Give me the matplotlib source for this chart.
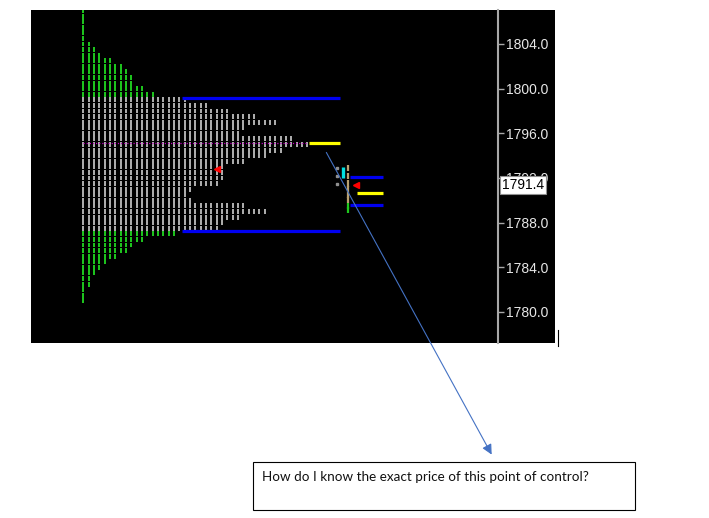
import matplotlib
matplotlib.use("Agg")
import matplotlib.pyplot as plt
from matplotlib.patches import Rectangle, FancyArrowPatch
from matplotlib.lines import Line2D
import matplotlib.transforms as mtransforms

# ---------------- data ----------------
# Main session market profile: price rows (0.5 step) and TPO count per row
prices = [1807.0, 1806.5, 1806.0, 1805.5, 1805.0, 1804.5, 1804.0, 1803.5, 1803.0,
          1802.5, 1802.0, 1801.5, 1801.0, 1800.5, 1800.0, 1799.5, 1799.0, 1798.5,
          1798.0, 1797.5, 1797.0, 1796.5, 1796.0, 1795.5, 1795.0, 1794.5, 1794.0,
          1793.5, 1793.0, 1792.5, 1792.0, 1791.5, 1791.0, 1790.5, 1790.0, 1789.5,
          1789.0, 1788.5, 1788.0, 1787.5, 1787.0, 1786.5, 1786.0, 1785.5, 1785.0,
          1784.5, 1784.0, 1783.5, 1783.0, 1782.5, 1782.0, 1781.5, 1781.0]
tpo_counts = [1, 1, 1, 1, 1, 1, 2, 3, 4,
              6, 8, 9, 10, 10, 12, 14, 20, 24,
              28, 33, 37, 31, 30, 40, 43, 38, 35,
              31, 27, 27, 27, 26, 21, 20, 21, 31,
              35, 30, 27, 26, 18, 12, 10, 9, 7,
              5, 4, 3, 2, 2, 1, 1, 1]
vah, val, poc = 1799.15, 1787.25, 1795.1
marker_price = 1792.8

# Current (developing) session profile
cur_prices = [1792.9, 1792.2, 1791.5, 1791.0, 1790.5, 1790.0, 1789.5, 1789.1]
cur_counts = [2, 2, 2, 1, 1, 1, 1, 1]
cur_vah, cur_val, cur_poc = 1792.1, 1789.6, 1790.65
cur_range_low, cur_range_high = 1792.0, 1793.0
last_price = 1791.4

tick_values = [1780.0, 1784.0, 1788.0, 1792.0, 1796.0, 1800.0, 1804.0]
question = "How do I know the exact price of this point of control?"

# ---------------- figure ----------------
W, H = 709, 518
fig = plt.figure(figsize=(W / 100, H / 100), dpi=100)
fig.patch.set_facecolor("white")

def fx(px):
    return px / W

def fy(py):
    return 1 - py / H

# black chart panel (incl. price-scale area)
fig.add_artist(Rectangle((fx(31), fy(343)), fx(555) - fx(31), fy(10) - fy(343),
                         transform=fig.transFigure, facecolor="black",
                         edgecolor="none", zorder=-1))

ax = fig.add_axes([fx(31), fy(343), fx(498) - fx(31), fy(10) - fy(343)])
ax.set_facecolor("black")
ax.set_xlim(-9.81, 77.8)
ax.set_ylim(1777.22, 1807.045)

GREEN = "#1ec81e"
GREY = "#b0b0b0"

# main profile TPO columns
half = 0.22
for p, c in zip(prices, tpo_counts):
    col = GREEN if (p > vah or p < val) else GREY
    xs = list(range(c))
    ax.vlines(xs, p - half, p + half, colors=col, lw=1.4, zorder=2)

# POC dotted line through the profile
ax.hlines(poc, 0, tpo_counts[prices.index(1795.0)] - 1, colors="#c000c0",
          lw=0.9, linestyles=(0, (1, 1.5)), zorder=3)

# value area lines and POC extension
ax.hlines([vah, val], 18.5, 48.2, colors="#0000f0", lw=2.3, zorder=4)
ax.hlines(poc, 42.3, 48.2, colors="#ffff00", lw=2.3, zorder=4)
ax.plot([25.1], [marker_price], marker="<", color="red", ms=5, ls="none", zorder=5)

# current session profile
for p, c in zip(cur_prices, cur_counts):
    col = GREEN if p < cur_val else "#b8a070"
    for i in range(c):
        x = 49.7 - 2.1 * i
        if i == 0:
            ax.vlines(x, p - 0.28, p + 0.28, colors=col, lw=1.6, zorder=2)
        else:
            ax.plot([x], [p], marker="s", ms=1.6, color="#909090", ls="none", zorder=2)
ax.vlines(48.7, cur_range_low, cur_range_high, colors="#00e0e0", lw=2.4, zorder=3)
ax.hlines([cur_vah, cur_val], 50.1, 56.2, colors="#0000f0", lw=2.3, zorder=4)
ax.hlines(cur_poc, 51.3, 56.2, colors="#ffff00", lw=2.3, zorder=4)
ax.plot([51.2], [last_price], marker="<", color="red", ms=5, ls="none", zorder=5)

# axis styling
for s in ["left", "top", "bottom"]:
    ax.spines[s].set_visible(False)
ax.spines["right"].set_color("#a8a8a8")
ax.spines["right"].set_linewidth(1.5)
ax.set_xticks([])
ax.yaxis.tick_right()
ax.set_yticks(tick_values)
ax.set_yticklabels([f"{v:.1f}" for v in tick_values])
ax.tick_params(axis="y", colors="#a8a8a8", length=4, width=1, pad=2,
               labelcolor="#e6e6e6", labelsize=10)
for lab in ax.get_yticklabels():
    lab.set_fontfamily("Liberation Sans")

# last price box
trans = mtransforms.blended_transform_factory(ax.transAxes, ax.transData)
ax.text(1.0 + 4 / 467, last_price, f"{last_price:.1f}", transform=trans,
        ha="left", va="center", fontsize=10, color="black",
        family="Liberation Sans", clip_on=False, zorder=10,
        bbox=dict(boxstyle="square,pad=0.15", fc="white", ec="#909090", lw=0.8))

# cursor mark
fig.add_artist(Line2D([fx(558), fx(558)], [fy(330), fy(346)],
                      transform=fig.transFigure, color="black", lw=0.8))

# annotation arrow
fig.add_artist(FancyArrowPatch((fx(325), fy(150)), (fx(493), fy(457)),
                               transform=fig.transFigure, arrowstyle="-|>,head_length=6,head_width=3",
                               color="#4472C4", lw=0.8, zorder=6))

# question box
fig.add_artist(Rectangle((fx(253), fy(510)), fx(635) - fx(253), fy(462) - fy(510),
                         transform=fig.transFigure, facecolor="white",
                         edgecolor="black", lw=0.8, zorder=5))
fig.text(fx(262), fy(477), question, ha="left", va="center", fontsize=9.7,
         family="Lato", color="#111111", zorder=7)

fig.savefig("out.png", dpi=100)
